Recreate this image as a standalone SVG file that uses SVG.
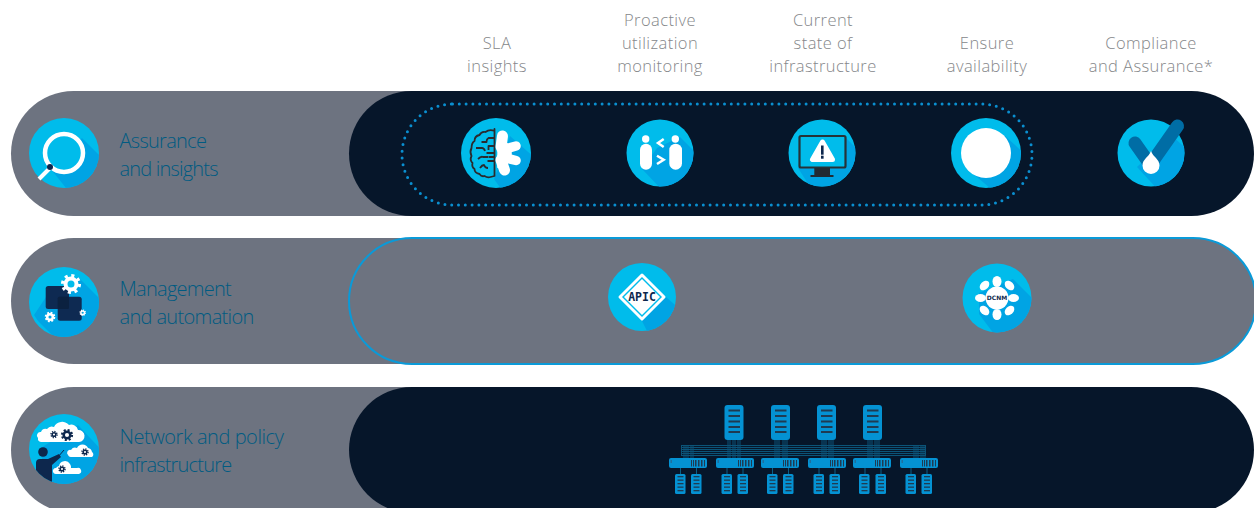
<svg xmlns="http://www.w3.org/2000/svg" width="1254" height="508" viewBox="0 0 1254 508">
<style>
text{font-family:"Open Sans","Liberation Sans",sans-serif}
.top{font-size:16.5px;fill:#85878a;text-anchor:middle;letter-spacing:.42px;font-weight:300}
.lab{font-size:20px;fill:#005b82;letter-spacing:-.72px;font-weight:300}
.grey{fill:#6d7380}.dark{fill:#06162a}
.base{fill:#00bceb}.sh{fill:#00a4e4}
.w{fill:#fff}.n{fill:#0d274d}
.sp{fill:#0492d3}.bar{fill:#1f3b52}
.wire{stroke:#0c5f86;stroke-width:1;fill:none}
</style>
<defs>
<clipPath id="c335"><circle r="33.500"/></clipPath>
<clipPath id="c34"><circle r="34"/></clipPath>
<clipPath id="c345"><circle r="34.500"/></clipPath>
<clipPath id="c35"><circle r="35"/></clipPath>
<g id="spine"><rect x="0" y="0" width="19" height="35" rx="3" class="sp"/><g class="bar"><rect x="4" y="4.500" width="11.500" height="2"/><rect x="4" y="10" width="11.500" height="2"/><rect x="4" y="15.500" width="11.500" height="2"/><rect x="4" y="21" width="11.500" height="2"/><rect x="4" y="26" width="11.500" height="2"/></g></g>
<g id="leaf"><rect x="0" y="0" width="38" height="10" rx="2" class="sp"/><rect x="1.500" y="2" width="1.500" height="3" fill="#1f6f9e"/><g class="bar"><rect x="22" y="2" width="1" height="6.500"/><rect x="24" y="2" width="1" height="6.500"/><rect x="26" y="2" width="1.500" height="6.500"/><rect x="29" y="2" width="1.500" height="6.500"/><rect x="32" y="2" width="1.500" height="6.500"/><rect x="35" y="2" width="1" height="6.500"/></g></g>
<g id="host"><rect x="0" y="0" width="10.500" height="20" rx="1.500" class="sp"/><g class="bar"><rect x="2.500" y="2" width="6" height="1.300"/><rect x="2.500" y="5.500" width="6" height="1.300"/><rect x="2.500" y="9" width="6" height="1.300"/><rect x="2.500" y="12.500" width="6" height="1.300"/><rect x="2.500" y="16" width="6" height="1.300"/></g></g>
</defs>

<g id="row-assurance">
<rect class="grey" x="11" y="91" width="460" height="125" rx="62.5"/>
<rect class="dark" x="349" y="91" width="905" height="125" rx="62.5"/>
<rect x="402" y="104" width="630" height="101" rx="50.500" fill="none" stroke="#0a8fd0" stroke-width="3" stroke-linecap="round" stroke-dasharray="0 6.800"/>
<text class="lab" x="119.500" y="148">Assurance</text>
<text class="lab" x="119.500" y="176" style="letter-spacing:-.8px">and insights</text>
</g>
<g id="row-management">
<rect class="grey" x="11" y="238" width="1245" height="126" rx="63"/>
<rect x="349" y="238" width="907" height="126" rx="63" fill="none" stroke="#0a9ad8" stroke-width="2"/>
<text class="lab" x="119.500" y="296">Management</text>
<text class="lab" x="119.500" y="324" style="letter-spacing:-.65px">and automation</text>
</g>
<g id="row-network">
<rect class="grey" x="11" y="387" width="460" height="126" rx="63"/>
<rect class="dark" x="349" y="387" width="905" height="126" rx="63"/>
<text class="lab" x="119.500" y="444" style="letter-spacing:-.44px">Network and policy</text>
<text class="lab" x="119.500" y="472" style="letter-spacing:-.8px">infrastructure</text>
</g>

<g id="column-labels">
<text class="top" x="497" y="49">SLA</text><text class="top" x="497" y="72">insights</text>
<text class="top" x="660" y="26">Proactive</text><text class="top" x="660" y="49">utilization</text><text class="top" x="660" y="72">monitoring</text>
<text class="top" x="823" y="26">Current</text><text class="top" x="823" y="49">state of</text><text class="top" x="823" y="72">infrastructure</text>
<text class="top" x="987" y="49">Ensure</text><text class="top" x="987" y="72">availability</text>
<text class="top" x="1151" y="49">Compliance</text><text class="top" x="1151" y="72">and Assurance*</text>
</g>

<g id="icon-assurance" transform="translate(64,153)">
<circle class="base" r="35"/>
<polygon class="sh" clip-path="url(#c35)" points="18,-15 40,7 40,40 6,40 -14,15"/>
<line x1="-14" y1="15" x2="-25" y2="26" stroke="#fff" stroke-width="4"/>
<circle r="19" class="base" stroke="#fff" stroke-width="4.500"/>
<circle cx="-14" cy="14" r="3" fill="#0d274d"/>
</g>

<g id="icon-management" transform="translate(64,302)">
<circle class="base" r="35"/>
<polygon class="sh" clip-path="url(#c35)" points="14,-25 40,1 40,40 -5,40 -26,19 -30,13 -18,-5"/>
<rect x="-18.300" y="-16" width="23.300" height="23" rx="2.500" fill="#0e2a52"/>
<rect x="-6.300" y="-5.300" width="24" height="24" rx="2.500" fill="#0e2a52"/>
<rect x="-6.300" y="-5.300" width="11.300" height="12.300" rx="1.500" fill="#0b2140"/>
<circle cx="7" cy="-18" r="7" class="base"/>
<g fill="none" stroke="#fff"><circle cx="7" cy="-18" r="5.500" stroke-width="4"/><circle cx="7" cy="-18" r="8.300" stroke-width="3.500" stroke-dasharray="3 3.520"/>
<circle cx="-14" cy="15" r="2.800" stroke-width="2.500"/><circle cx="-14" cy="15" r="4.200" stroke-width="2.200" stroke-dasharray="1.800 1.500"/>
<circle cx="18.700" cy="10.700" r="1.800" stroke-width="1.500"/><circle cx="18.700" cy="10.700" r="2.600" stroke-width="1.400" stroke-dasharray="1 1.040"/></g>
</g>

<g id="icon-network" transform="translate(64,449)">
<circle class="base" r="35"/>
<polygon class="sh" clip-path="url(#c35)" points="14,-24 40,4 40,40 -12,40 -25,0"/>
<path class="w" d="M-26,-11a3.500,3.500 0 0 1 3,-6a5,5 0 0 1 6,-3a6,6 0 0 1 7,-2a9,9 0 0 1 15,-2a7,7 0 0 1 9,5a4.500,4.500 0 0 1 1,12h-38a3.500,3.500 0 0 1 -3,-4z"/>
<path class="w" d="M4,6a3,3 0 0 1 3,-5a5,5 0 0 1 6,-2a6,6 0 0 1 11,0a5,5 0 0 1 4,4a3,3 0 0 1 0,5h-21a3,3 0 0 1 -3,-2z"/>
<path class="w" d="M-11,23a3,3 0 0 1 3,-4a5,5 0 0 1 3,-2a6,6 0 0 1 11,-2a5,5 0 0 1 1,4h6a3,3 0 0 1 2,6h-23a3,3 0 0 1 -3,-2z"/>
<g fill="none" stroke="#0d274d">
<circle cx="3" cy="-14" r="3.300" stroke-width="2.500"/><circle cx="3" cy="-14" r="5" stroke-width="2.200" stroke-dasharray="2 1.930"/>
<circle cx="-10" cy="-14.500" r="1.800" stroke-width="1.500"/><circle cx="-10" cy="-14.500" r="3" stroke-width="1.500" stroke-dasharray="1.200 1.150"/>
<circle cx="21" cy="3" r="1.800" stroke-width="1.500"/><circle cx="21" cy="3" r="3" stroke-width="1.500" stroke-dasharray="1.200 1.150"/>
<circle cx="-2" cy="20" r="1.800" stroke-width="1.500"/><circle cx="-2" cy="20" r="3" stroke-width="1.500" stroke-dasharray="1.200 1.150"/></g>
<g clip-path="url(#c35)"><circle cx="-21" cy="3" r="4.800" class="n"/>
<path class="n" d="M-28,36v-22a4,4 0 0 1 4,-4h8l11,-5l2,3l-9,8v20z"/><path d="M-6,8l6,-7" stroke="#0d274d" stroke-width="1"/></g>
</g>

<g id="icon-sla" transform="translate(496,153)">
<circle class="base" r="35"/>
<polygon class="sh" clip-path="url(#c35)" points="14,-17 40,6 40,40 8,40 -2,26"/>
<path d="M-1.500,-24v47l-4,1q-3,1,-6,-1q-3,1,-5,-2q-5,-1,-5,-5q-3,-2,-2,-6q-3,-3,-1,-7q-2,-4,0,-8q0,-5,3,-7q0,-5,5,-6q2,-4,6,-3q4,-3,9,-1z M-1.500,-15h-6q-2,1,-2,4h-5 M-20,-5h6q2,0,3,3 M-1.500,-7h-6v4 M-18,6q3,-3,5,-2h5 M-1.500,0h-8 M-1.500,4h-6 M-1.500,8h-7 M-16,15q2,-3,4,-3q1,3,4,3" fill="none" stroke="#2a2a2e" stroke-width="1.800" stroke-linejoin="round"/>
<path class="w" d="M1.300,-14A14.500,14.500 0 0 1 1.300,15z"/>
<g fill="none" stroke="#fff" stroke-linecap="round"><path d="M5,-6L6.500,-17" stroke-width="11"/><path d="M6,-3L20,-7" stroke-width="9.500"/><path d="M6,4L20,7.500" stroke-width="9.500"/><path d="M5,7L8.500,17" stroke-width="11"/></g>
</g>

<g id="icon-utilization" transform="translate(660,153)">
<circle class="base" r="33.500"/>
<polygon class="sh" clip-path="url(#c335)" points="20,-16 40,4 40,40 5,40 -18,16 -3,-5"/>
<g class="w"><circle cx="-14.300" cy="-14" r="3.700"/><rect x="-20" y="-9.300" width="12" height="26" rx="6"/><circle cx="15.300" cy="-14" r="3.700"/><rect x="9.300" y="-9.300" width="12.700" height="26" rx="6.300"/></g>
<path d="M3.700,-14L-2,-10L3.700,-6M-3,2.700L3.700,6.700L-3,11" fill="none" stroke="#fff" stroke-width="2.500"/>
</g>

<g id="icon-state" transform="translate(822,153)">
<circle class="base" r="33.500"/>
<polygon class="sh" clip-path="url(#c335)" points="24,-15 40,1 40,40 -8,40 -24,15"/>
<rect x="-22.500" y="-17" width="46" height="31.500" rx="1.500" fill="#00bceb" stroke="#263238" stroke-width="2.200"/>
<rect x="-7.700" y="15" width="15.700" height="8" fill="#222b33"/>
<rect x="-11.500" y="22" width="23" height="2" fill="#222b33"/>
<path d="M.5,-11L-9.500,6.500H10.500z" fill="#fff" stroke="#fff" stroke-width="5" stroke-linejoin="round"/>
<rect x="-1" y="-7.500" width="2.600" height="9.200" fill="#0d274d"/><rect x="-1" y="2.700" width="2.600" height="3" fill="#0d274d"/>
</g>

<g id="icon-availability" transform="translate(986,153)">
<circle class="base" r="35"/>
<polygon class="sh" clip-path="url(#c35)" points="18,-18 40,2 40,40 10,40 -14,20"/>
<circle r="25" class="w"/>
</g>

<g id="icon-compliance" transform="translate(1151,153)">
<circle class="base" r="33.500"/>
<polygon class="sh" clip-path="url(#c335)" points="20,-18 40,0 40,40 10,40 -14,14"/>
<path d="M-16,-10L-.7,11.700L26.500,-27" fill="none" stroke="#006da5" stroke-width="13" stroke-linecap="round" stroke-linejoin="round"/>
<path class="w" d="M0,-2C-2,4 -8.500,6 -8.500,12.500A8.500,8.500 0 0 0 8.500,12.500C8.500,6 2,4 0,-2z"/>
</g>

<g id="node-apic" transform="translate(642,297)">
<circle class="base" r="34"/>
<polygon class="sh" clip-path="url(#c34)" points="24,0 40,14 40,40 8,40 0,24"/>
<path d="M0,-22L22,0L0,22L-22,0z" class="w" stroke="#fff" stroke-width="3" stroke-linejoin="round"/>
<path d="M0,-20L20,0L0,20L-20,0z" class="base"/>
<path d="M0,-18L18,0L0,18L-18,0z" class="w"/>
<text x="0" y="4" text-anchor="middle" style="font-family:'DejaVu Sans Mono','Liberation Mono',monospace;font-size:11.500px;font-weight:700;fill:#0d274d">APIC</text>
</g>

<g id="node-dcnm" transform="translate(997,298)">
<circle class="base" r="34.500"/>
<polygon class="sh" clip-path="url(#c345)" points="16,-19 40,5 40,40 0,40 -18,16 -18,-5"/>
<g class="w"><ellipse cy="-16.500" rx="4.500" ry="5.500"/><ellipse cy="16.500" rx="4.500" ry="5.500"/><ellipse cx="-16.500" rx="5.500" ry="4"/><ellipse cx="16.500" rx="5.500" ry="4"/>
<ellipse cx="-12.500" cy="-12.500" rx="5.500" ry="4" transform="rotate(-45 -12.500 -12.500)"/><ellipse cx="12.500" cy="-12.500" rx="5.500" ry="4" transform="rotate(45 12.500 -12.500)"/><ellipse cx="-12.500" cy="12.500" rx="5.500" ry="4" transform="rotate(45 -12.500 12.500)"/><ellipse cx="12.500" cy="12.500" rx="5.500" ry="4" transform="rotate(-45 12.500 12.500)"/><circle r="11.500"/></g>
<text x="0" y="2.300" text-anchor="middle" style="font-family:'DejaVu Sans','Liberation Sans',sans-serif;font-size:6px;font-weight:700;fill:#0d274d">DCNM</text>
</g>

<g id="connectors">
<g class="wire" opacity=".85">
<rect x="681.500" y="445.500" width="244" height="10"/>
<path d="M681,447.500H926M681,449.500H926M681,451.500H926M681,453.500H926"/>
<path d="M728,440v18M730,440v18M733,440v18M735,440v18M738,440v18M740,440v18M775,440v18M777,440v18M779,440v18M783,440v18M785,440v18M787,440v18M822,440v18M824,440v18M826,440v18M829,440v18M831,440v18M833,440v18M868,440v18M870,440v18M872,440v18M875,440v18M877,440v18M879,440v18"/>
<path d="M684,446v12M686,446v12M688,446v12M691,446v12M693,446v12M914,446v12M916,446v12M918,446v12M921,446v12M923,446v12M925,446v12"/>
</g>
<g class="wire">
<path d="M680.500,468v6M696.500,468v6M727,468v6M743,468v6M772.500,468v6M788.500,468v6M819,468v6M835,468v6M865,468v6M881,468v6M911,468v6M927,468v6"/>
</g>
</g>

<g id="spines"><use href="#spine" x="724.500" y="405"/><use href="#spine" x="771" y="405"/><use href="#spine" x="817" y="405"/><use href="#spine" x="863" y="405"/></g>
<g id="leaves"><use href="#leaf" x="669" y="458"/><use href="#leaf" x="716" y="458"/><use href="#leaf" x="761" y="458"/><use href="#leaf" x="808" y="458"/><use href="#leaf" x="853" y="458"/><use href="#leaf" x="900" y="458"/></g>
<g id="hosts"><use href="#host" x="675" y="474"/><use href="#host" x="691" y="474"/><use href="#host" x="721.500" y="474"/><use href="#host" x="737.500" y="474"/><use href="#host" x="767" y="474"/><use href="#host" x="783" y="474"/><use href="#host" x="813.500" y="474"/><use href="#host" x="829.500" y="474"/><use href="#host" x="859" y="474"/><use href="#host" x="875.500" y="474"/><use href="#host" x="905.500" y="474"/><use href="#host" x="921.500" y="474"/></g>
</svg>
